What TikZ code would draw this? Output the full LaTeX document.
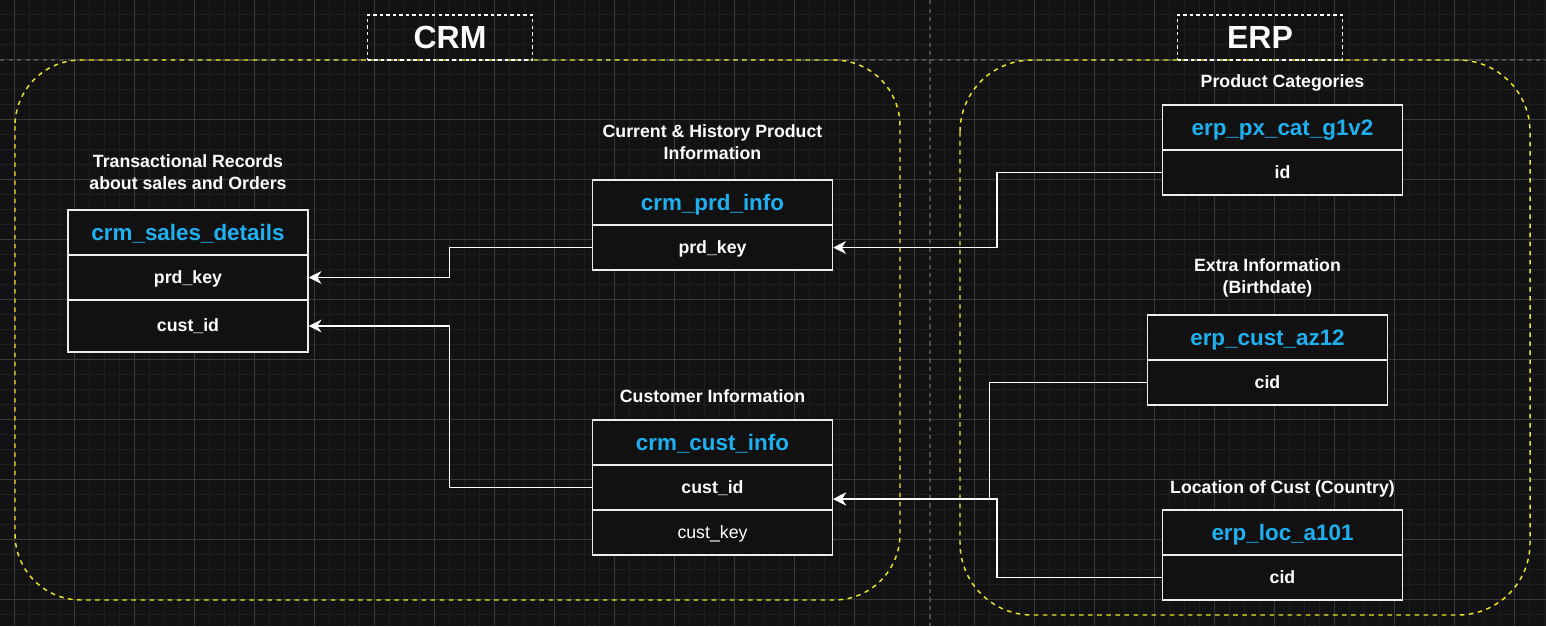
\documentclass[tikz,border=0pt]{standalone}
\usepackage{fontspec}
\setmainfont{Liberation Sans}
\usetikzlibrary{arrows.meta,calc}
\definecolor{bg}{HTML}{121212}
\definecolor{gridminor}{HTML}{1E1E1E}
\definecolor{gridmajor}{HTML}{383838}
\definecolor{sepline}{HTML}{4E4E4E}
\definecolor{grpyellow}{HTML}{E8E820}
\definecolor{hdrblue}{HTML}{1EB0F0}
\definecolor{tblfill}{HTML}{111111}
\definecolor{tblline}{HTML}{EDEDED}
\begin{document}
\begin{tikzpicture}[x=0.75pt,y=-0.75pt,
  tbl/.style={draw=tblline, line width=1.1pt, fill=tblfill, minimum width=180pt,
    minimum height=33.75pt, inner sep=0pt, text=white,
    font=\bfseries\fontsize{13.3}{16}\selectfont, text height=10.64pt, text depth=1.73pt},
  tblreg/.style={tbl, font=\fontsize{13.3}{16}\selectfont},
  hdr/.style={tbl, text=hdrblue, font=\bfseries\fontsize{16.8}{20}\selectfont,
    text height=13.44pt, text depth=2.18pt},
  ttl/.style={text=white, font=\bfseries\fontsize{13.3}{16.5}\selectfont, align=center, inner sep=0pt},
  ttlone/.style={text=white, font=\bfseries\fontsize{13.3}{16.5}\selectfont, inner sep=0pt, anchor=base},
  lbl/.style={draw=white, line width=0.9pt, dash pattern=on 2.6pt off 2.3pt,
    minimum width=123.75pt, minimum height=33.75pt, inner sep=0pt, text=white,
    font=\bfseries\fontsize{24}{28}\selectfont, text height=19.2pt, text depth=3.12pt},
  grp/.style={draw=grpyellow, line width=1.1pt, dash pattern=on 3.4pt off 3.4pt},
  conn/.style={draw=white, line width=1.1pt, -{Stealth[length=9.5pt,width=9.5pt,inset=3pt]}}
]
\useasboundingbox (0,0) rectangle (1546,626);
\fill[bg] (0,0) rectangle (1546,626);
% grid
\foreach \gx in {-1,14,...,1546} \draw[gridminor, line width=0.75pt] (\gx,0) -- (\gx,626);
\foreach \gy in {-0.5,14.5,...,626} \draw[gridminor, line width=0.75pt] (0,\gy) -- (1546,\gy);
\foreach \gx in {14,74,...,1546} \draw[gridmajor, line width=0.75pt] (\gx,0) -- (\gx,626);
\foreach \gy in {-0.5,59.5,...,626} \draw[gridmajor, line width=0.75pt] (0,\gy) -- (1546,\gy);
% separators
\draw[sepline, line width=1pt, dash pattern=on 3.2pt off 3.2pt] (0,60) -- (1546,60);
\draw[sepline, line width=1pt, dash pattern=on 3.2pt off 3.2pt] (930,0) -- (930,626);
% groups
\draw[grp, rounded corners=49.5pt] (15,60) rectangle (900,600);
\draw[grp, rounded corners=54pt] (960,60) rectangle (1530,615);
% group labels
\node[lbl] (crmlbl) at (450,37.5) {CRM};
\node[lbl] (erplbl) at (1260,37.5) {ERP};
% titles
\node[ttl] (sdt) at (188,172.4) {Transactional Records\\about sales and Orders};
\node[ttl] (pit) at (712.5,141.9) {Current \& History Product\\Information};
\node[ttlone] (cct) at (712.5,402.7) {Customer Information};
\node[ttlone] (pxt) at (1282.5,87.3) {Product Categories};
\node[ttl] (cat) at (1267.5,278.4) {Extra Information\\(Birthdate)};
\node[ttlone] (lct) at (1282.5,493.3) {Location of Cust (Country)};
% crm_sales_details
\node[hdr] (sdh) at (188,232.5) {crm\_sales\_details};
\node[tbl] (sdp) at (188,277.5) {prd\_key};
\node[tbl, minimum height=39pt] (sdc) at (188,326) {cust\_id};
% crm_prd_info
\node[hdr] (pih) at (712.5,202.5) {crm\_prd\_info};
\node[tbl] (pik) at (712.5,247.5) {prd\_key};
% crm_cust_info
\node[hdr] (cch) at (712.5,442.5) {crm\_cust\_info};
\node[tbl] (cci) at (712.5,487.5) {cust\_id};
\node[tblreg] (cck) at (712.5,532.5) {cust\_key};
% erp_px_cat_g1v2
\node[hdr] (pxh) at (1282.5,127.5) {erp\_px\_cat\_g1v2};
\node[tbl] (pxi) at (1282.5,172.5) {id};
% erp_cust_az12
\node[hdr] (cah) at (1267.5,337.5) {erp\_cust\_az12};
\node[tbl] (cai) at (1267.5,382.5) {cid};
% erp_loc_a101
\node[hdr] (lch) at (1282.5,532.5) {erp\_loc\_a101};
\node[tbl] (lci) at (1282.5,577.5) {cid};
% connectors
\coordinate (ccin) at ($(cci.east)+(0,11.5)$);
\draw[conn] (pik.west) -- ($(pik.west)+(-142.5,0)$) |- (sdp.east);
\draw[conn] (cci.west) -- ($(cci.west)+(-142.5,0)$) |- (sdc.east);
\draw[conn] (pxi.west) -- ($(pxi.west)+(-165,0)$) |- (pik.east);
\draw[conn] (cai.west) -- ($(cai.west)+(-157.5,0)$) |- (ccin);
\draw[conn] (lci.west) -- ($(lci.west)+(-165,0)$) |- (ccin);
\end{tikzpicture}
\end{document}
